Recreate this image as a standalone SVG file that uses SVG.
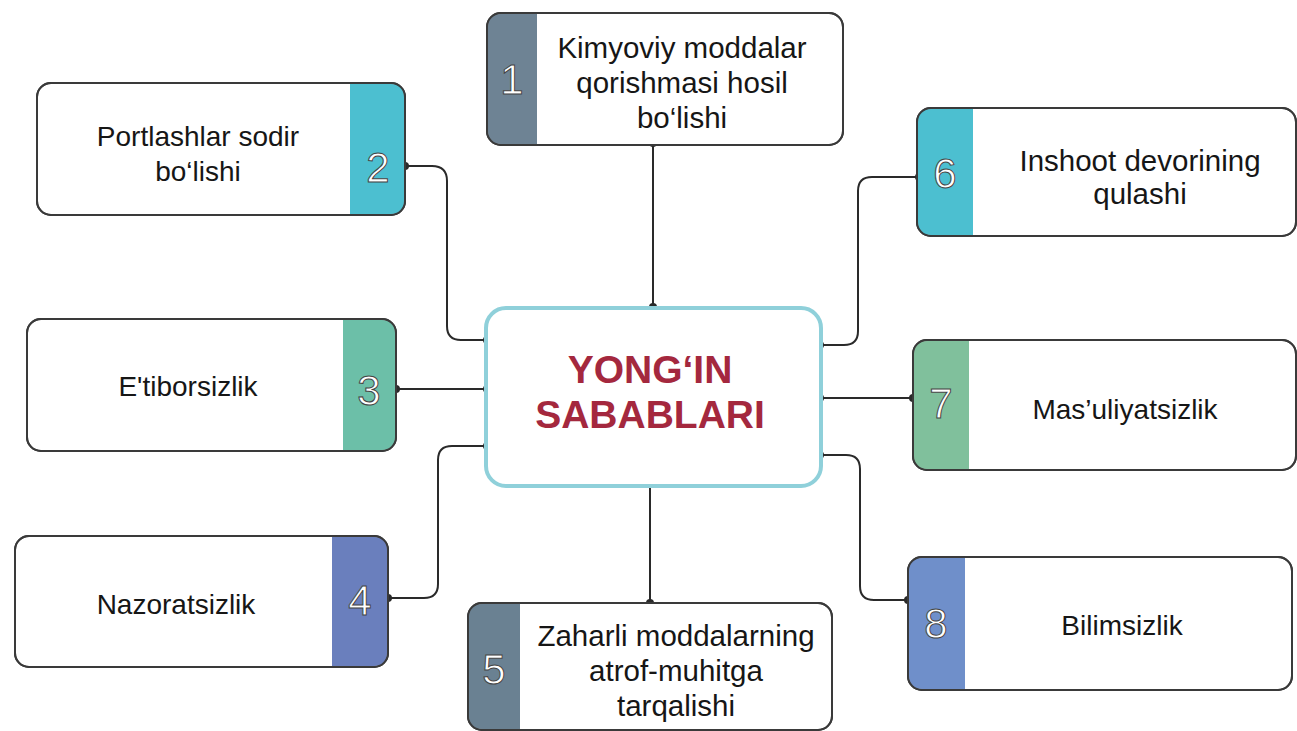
<svg xmlns="http://www.w3.org/2000/svg" width="1297" height="731" viewBox="0 0 1297 731">
<style>
.box{fill:#fff;stroke:#3a3a3a;stroke-width:2}
.o{fill:none;stroke:#3a3a3a;stroke-width:2}
.t{font-family:"Liberation Sans",Arial,sans-serif;font-size:28px;fill:#161616;text-anchor:middle}
.tb{font-size:29.5px}
.n{font-family:"Liberation Sans",Arial,sans-serif;font-size:42px;fill:#fff;stroke:#444;stroke-width:1;text-anchor:middle}
.c{fill:none;stroke:#2a2a2a;stroke-width:2}
.d{fill:#2a2a2a}
.h{font-family:"Liberation Sans",Arial,sans-serif;font-size:39px;font-weight:bold;fill:#a4283e;text-anchor:middle}
</style>
<rect width="1297" height="731" fill="#fff"/>
<g id="connectors">
<path class="c" d="M653,143 V307"/>
<path class="c" d="M405,166 H432 Q447,166 447,181 V326 Q447,340 461,340 H487"/>
<path class="c" d="M396,389 H487"/>
<path class="c" d="M388,598 H424 Q438,598 438,584 V460 Q438,446 452,446 H487"/>
<path class="c" d="M650,484 V603"/>
<path class="c" d="M919,177 H872 Q858,177 858,191 V331 Q858,345 844,345 H820"/>
<path class="c" d="M820,398 H913"/>
<path class="c" d="M908,600 H874 Q860,600 860,586 V469 Q860,455 846,455 H820"/>
<circle class="d" cx="653" cy="143" r="4"/><circle class="d" cx="653" cy="307" r="4"/>
<circle class="d" cx="405" cy="166" r="4"/><circle class="d" cx="487" cy="340" r="4"/>
<circle class="d" cx="396" cy="389" r="4"/><circle class="d" cx="487" cy="389" r="4"/>
<circle class="d" cx="388" cy="598" r="4"/><circle class="d" cx="487" cy="446" r="4"/>
<circle class="d" cx="650" cy="484" r="4"/><circle class="d" cx="650" cy="603" r="4"/>
<circle class="d" cx="919" cy="177" r="4"/><circle class="d" cx="820" cy="345" r="4"/>
<circle class="d" cx="820" cy="398" r="4"/><circle class="d" cx="913" cy="398" r="4"/>
<circle class="d" cx="908" cy="600" r="4"/><circle class="d" cx="820" cy="455" r="4"/>
</g>
<g id="center">
<rect x="486" y="308" width="335" height="178" rx="20" fill="#fff" stroke="#8fd0da" stroke-width="4"/>
<text class="h" x="650" y="383">YONG‘IN</text>
<text class="h" x="650" y="428">SABABLARI</text>
</g>
<g id="node1">
<rect class="box" x="487" y="13" width="356" height="132" rx="14"/>
<path d="M537,14 H501 Q488,14 488,27 V131 Q488,144 501,144 H537 Z" fill="#6e8394"/>
<rect class="o" x="487" y="13" width="356" height="132" rx="14"/>
<text class="n" x="512" y="94">1</text>
<text class="t tb" x="682" y="58">Kimyoviy moddalar</text>
<text class="t tb" x="682" y="93">qorishmasi hosil</text>
<text class="t tb" x="682" y="128">bo‘lishi</text>
</g>
<g id="node2">
<rect class="box" x="37" y="83" width="368" height="132" rx="14"/>
<path d="M350,84 H391 Q404,84 404,97 V201 Q404,214 391,214 H350 Z" fill="#4cbfd0"/>
<rect class="o" x="37" y="83" width="368" height="132" rx="14"/>
<text class="n" x="378" y="182">2</text>
<text class="t" x="198" y="146">Portlashlar sodir</text>
<text class="t" x="198" y="181">bo‘lishi</text>
</g>
<g id="node3">
<rect class="box" x="27" y="319" width="369" height="132" rx="14"/>
<path d="M343,320 H382 Q395,320 395,333 V437 Q395,450 382,450 H343 Z" fill="#6cbfa8"/>
<rect class="o" x="27" y="319" width="369" height="132" rx="14"/>
<text class="n" x="369" y="405">3</text>
<text class="t" x="188" y="396">E'tiborsizlik</text>
</g>
<g id="node4">
<rect class="box" x="15" y="536" width="373" height="131" rx="14"/>
<path d="M332,537 H374 Q387,537 387,550 V653 Q387,666 374,666 H332 Z" fill="#6a7fbd"/>
<rect class="o" x="15" y="536" width="373" height="131" rx="14"/>
<text class="n" x="360" y="615">4</text>
<text class="t" x="176" y="614">Nazoratsizlik</text>
</g>
<g id="node5">
<rect class="box" x="468" y="603" width="364" height="127" rx="14"/>
<path d="M520,604 H482 Q469,604 469,617 V716 Q469,729 482,729 H520 Z" fill="#6a8192"/>
<rect class="o" x="468" y="603" width="364" height="127" rx="14"/>
<text class="n" x="494" y="684">5</text>
<text class="t tb" x="676" y="646">Zaharli moddalarning</text>
<text class="t tb" x="676" y="681">atrof-muhitga</text>
<text class="t tb" x="676" y="716">tarqalishi</text>
</g>
<g id="node6">
<rect class="box" x="917" y="108" width="379" height="128" rx="14"/>
<path d="M973,109 H931 Q918,109 918,122 V222 Q918,235 931,235 H973 Z" fill="#4cbfd0"/>
<rect class="o" x="917" y="108" width="379" height="128" rx="14"/>
<text class="n" x="945" y="188">6</text>
<text class="t tb" x="1140" y="171">Inshoot devorining</text>
<text class="t tb" x="1140" y="204">qulashi</text>
</g>
<g id="node7">
<rect class="box" x="913" y="340" width="383" height="130" rx="14"/>
<path d="M969,341 H927 Q914,341 914,354 V456 Q914,469 927,469 H969 Z" fill="#80c09c"/>
<rect class="o" x="913" y="340" width="383" height="130" rx="14"/>
<text class="n" x="941" y="418">7</text>
<text class="t" x="1125" y="419">Mas’uliyatsizlik</text>
</g>
<g id="node8">
<rect class="box" x="908" y="557" width="384" height="133" rx="14"/>
<path d="M965,558 H922 Q909,558 909,571 V676 Q909,689 922,689 H965 Z" fill="#6f8fca"/>
<rect class="o" x="908" y="557" width="384" height="133" rx="14"/>
<text class="n" x="936" y="638">8</text>
<text class="t" x="1122" y="635">Bilimsizlik</text>
</g>
</svg>
